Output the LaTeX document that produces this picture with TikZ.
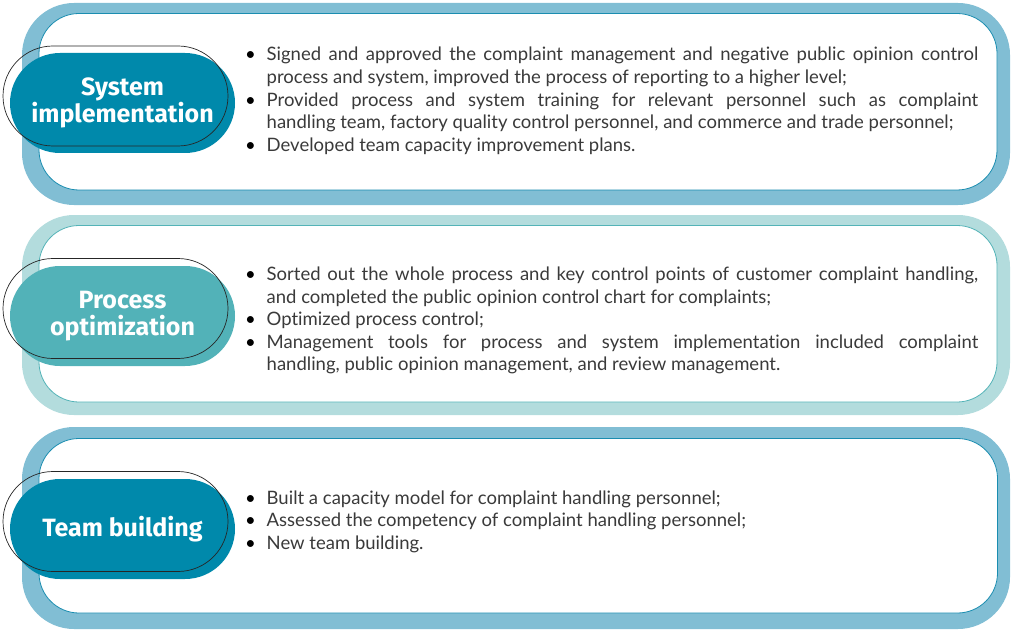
\documentclass[tikz,border=0pt]{standalone}
\usepackage{fontspec}
\setmainfont{Lato}[Ligatures=NoCommon]
\newfontfamily\labelfont{Fira Sans}
\usetikzlibrary{shapes.misc}
\definecolor{bandA}{HTML}{81BED4}
\definecolor{lineA}{HTML}{1A8DB0}
\definecolor{pillA}{HTML}{0089AB}
\definecolor{bandB}{HTML}{B3DCDD}
\definecolor{lineB}{HTML}{53B3B7}
\definecolor{pillB}{HTML}{52B2B8}
\definecolor{bodytext}{HTML}{3A3A3A}
\newcommand{\bitem}[1]{\par\hangindent=22pt\hangafter=1\noindent\makebox[22pt][l]{\hspace{0.5pt}\textcolor{black}{\textbullet}}#1}
\tikzset{
  band/.style={rounded corners=52pt},
  inner/.style={fill=white, line width=0.8pt, rounded corners=40pt},
  pill/.style={rounded rectangle, minimum width=225pt, minimum height=100pt, inner sep=0pt,
    text=white, align=center, font=\labelfont\bfseries\fontsize{25}{28}\selectfont},
  pillline/.style={rounded rectangle, minimum width=225pt, minimum height=100pt, inner sep=0pt, draw=black!85, line width=0.7pt},
  body/.style={anchor=base west, inner sep=0pt, text=bodytext,
    font=\fontsize{18.5}{22.6}\selectfont}
}
\begin{document}
\begin{tikzpicture}[x=1pt,y=-1pt]
\useasboundingbox (0,0) rectangle (1011,631);
% panel 1
\fill[band, bandA] (22,3) rectangle (1010,205);
\draw[inner, draw=lineA] (39,13.5) rectangle (997,190);
% panel 2
\fill[band, bandB] (22,215) rectangle (1010,415);
\draw[inner, draw=lineB] (39,225.5) rectangle (997,402);
% panel 3
\fill[band, bandA] (22,427) rectangle (1010,629);
\draw[inner, draw=lineA] (39,438.5) rectangle (997.5,613);
% pills
\node[pill, fill=pillA] (p1) at (122.5,103) {System\\[-1pt]implementation};
\node[pillline] (p1o) at (115.5,96) {};
\node[pill, fill=pillB] (p2) at (122.5,316) {Process\\[-1pt]optimization};
\node[pillline] (p2o) at (115.5,308.5) {};
\node[pill, fill=pillA] (p3) at (122.5,529) {Team building};
\node[pillline] (p3o) at (115.5,521.5) {};
% texts
\node[body] (t1) at (244.5,61) {\parbox[t]{733.5pt}{%
\bitem{Signed and approved the complaint management and negative public opinion control\linebreak process and system, improved the process of reporting to a higher level;}
\bitem{Provided process and system training for relevant personnel such as complaint\linebreak handling team, factory quality control personnel, and commerce and trade personnel;}
\bitem{Developed team capacity improvement plans.}}};
\node[body] (t2) at (244.5,280.5) {\parbox[t]{733.5pt}{%
\bitem{Sorted out the whole process and key control points of customer complaint handling,\linebreak and completed the public opinion control chart for complaints;}
\bitem{Optimized process control;}
\bitem{Management tools for process and system implementation included complaint\linebreak handling, public opinion management, and review management.}}};
\node[body] (t3) at (244.5,504) {\parbox[t]{733.5pt}{%
\bitem{Built a capacity model for complaint handling personnel;}
\bitem{Assessed the competency of complaint handling personnel;}
\bitem{New team building.}}};
\end{tikzpicture}
\end{document}
